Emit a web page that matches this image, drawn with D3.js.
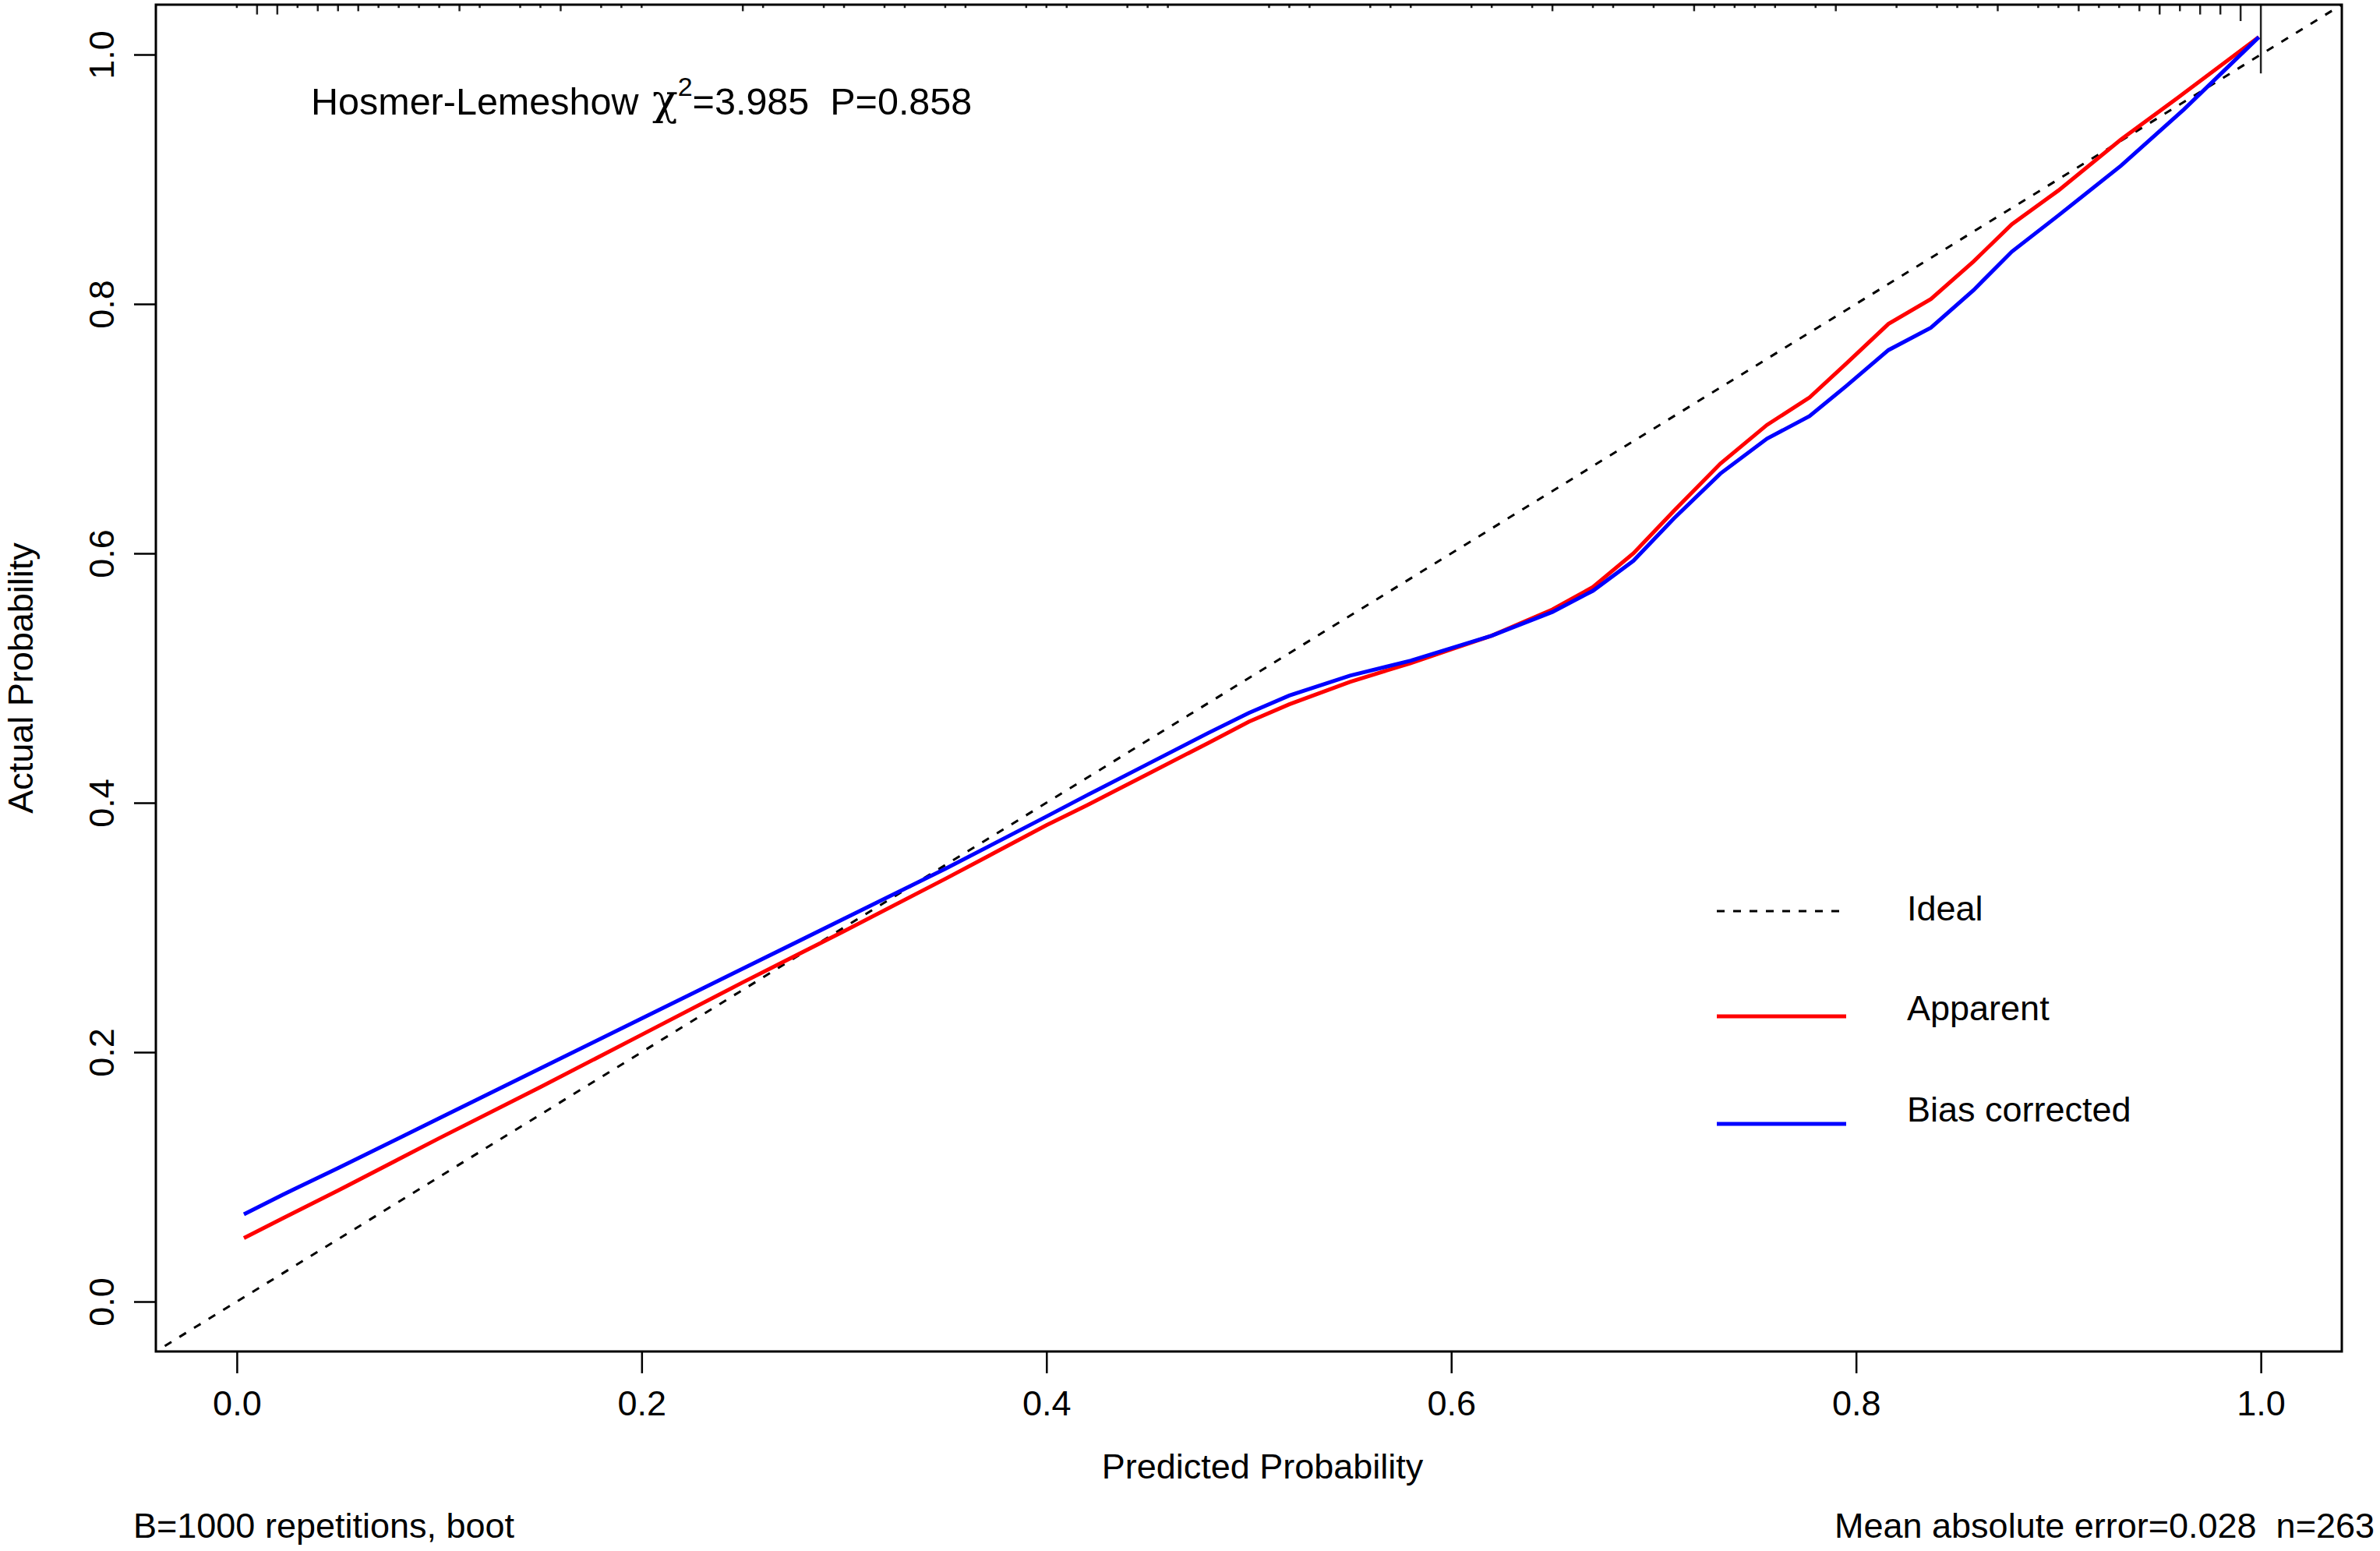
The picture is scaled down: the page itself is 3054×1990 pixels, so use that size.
<!DOCTYPE html>
<html>
<head>
<meta charset="utf-8">
<script src="https://cdn.jsdelivr.net/npm/d3@7"></script>
<style>
  body { margin: 0; background: #fff; }
  svg { display: block; font-family: "Liberation Sans", Arial, sans-serif; }
  text { fill: #000; white-space: pre; }
</style>
</head>
<body>
<div id="chart"></div>
<script>
// Calibration curves
const predX = [0.0035, 0.023, 0.05, 0.1, 0.15, 0.2, 0.25, 0.3, 0.35, 0.4, 0.42, 0.45, 0.48, 0.5, 0.52, 0.55, 0.58, 0.6, 0.62, 0.65, 0.67, 0.69, 0.71, 0.733, 0.756, 0.777, 0.795, 0.816, 0.837, 0.858, 0.877, 0.9, 0.931, 0.962, 0.999];
const apparentY = [0.051, 0.067, 0.089, 0.131, 0.172, 0.214, 0.256, 0.297, 0.339, 0.382, 0.398, 0.423, 0.448, 0.465, 0.479, 0.497, 0.512, 0.523, 0.534, 0.555, 0.573, 0.600, 0.634, 0.672, 0.703, 0.725, 0.752, 0.784, 0.804, 0.834, 0.864, 0.891, 0.932, 0.969, 1.014];
const biasY = [0.070, 0.086, 0.107, 0.147, 0.187, 0.227, 0.267, 0.307, 0.347, 0.389, 0.406, 0.431, 0.456, 0.472, 0.486, 0.502, 0.514, 0.524, 0.534, 0.553, 0.570, 0.594, 0.628, 0.664, 0.692, 0.710, 0.734, 0.763, 0.781, 0.811, 0.842, 0.871, 0.911, 0.956, 1.014];

// Distribution of predicted probabilities (top rug)
const rugX = [0.00, 0.01, 0.02, 0.03, 0.04, 0.05, 0.06, 0.07, 0.08, 0.09, 0.10, 0.11, 0.12, 0.14, 0.15, 0.16, 0.18, 0.19, 0.20, 0.25, 0.26, 0.29, 0.30, 0.32, 0.33, 0.35, 0.36, 0.39, 0.40, 0.41, 0.44, 0.45, 0.46,
  0.51, 0.52, 0.53, 0.56, 0.57, 0.58, 0.61, 0.62, 0.64, 0.65, 0.67, 0.68, 0.70, 0.72, 0.73, 0.74, 0.75, 0.76, 0.78, 0.79, 0.82, 0.84, 0.85, 0.86, 0.87, 0.89, 0.90, 0.91, 0.92, 0.93, 0.94, 0.95, 0.96, 0.97, 0.98, 0.99, 1.00];
const rugCount = [1, 3, 3, 1, 2, 2, 2, 1, 1, 1, 1, 2, 1, 1, 1, 2, 1, 1, 1, 2, 1, 1, 1, 1, 1, 1, 1, 1, 1, 1, 1, 1, 1,
  1, 1, 1, 1, 1, 1, 1, 1, 1, 2, 1, 1, 1, 2, 1, 1, 1, 1, 1, 2, 1, 1, 1, 1, 2, 1, 1, 2, 1, 1, 2, 3, 2, 3, 3, 5, 21];

const xTicks = [0, 0.2, 0.4, 0.6, 0.8, 1.0];
const yTicks = [0, 0.2, 0.4, 0.6, 0.8, 1.0];

const legendLabels = ["Ideal", "Apparent", "Bias corrected"];
const legendColors = ["#000", "#ff0000", "#0000ff"];

const width = 3054, height = 1990;
const plot = { left: 200, right: 3005, top: 6, bottom: 1734 };
const fontSize = 45;

const svg = d3.select("#chart").append("svg")
  .attr("width", width)
  .attr("height", height);

const x = d3.scaleLinear().domain([-0.04, 1.04]).range([plot.left, plot.right]);
const y = d3.scaleLinear().domain([-0.04, 1.04]).range([plot.bottom, plot.top]);

svg.append("clipPath").attr("id", "clip")
  .append("rect")
  .attr("x", plot.left).attr("y", plot.top)
  .attr("width", plot.right - plot.left)
  .attr("height", plot.bottom - plot.top);

// Axes
const xAxis = svg.append("g")
  .attr("transform", `translate(0,${plot.bottom})`)
  .call(d3.axisBottom(x).tickValues(xTicks).tickFormat(d3.format(".1f"))
    .tickSize(28).tickSizeOuter(0).tickPadding(22));
xAxis.select(".domain").remove();
xAxis.selectAll("line").attr("stroke", "#000").attr("stroke-width", 2.5);
xAxis.selectAll("text").attr("font-size", fontSize).attr("font-family", null);

const yAxis = svg.append("g")
  .attr("transform", `translate(${plot.left},0)`)
  .call(d3.axisLeft(y).tickValues(yTicks).tickFormat(d3.format(".1f"))
    .tickSize(28).tickSizeOuter(0));
yAxis.select(".domain").remove();
yAxis.selectAll("line").attr("stroke", "#000").attr("stroke-width", 2.5);
yAxis.selectAll("text")
  .attr("font-size", fontSize).attr("font-family", null)
  .attr("transform", "rotate(-90)")
  .attr("x", 0).attr("y", -54).attr("dy", null)
  .attr("text-anchor", "middle");

// Ideal line
const plotArea = svg.append("g").attr("clip-path", "url(#clip)");
plotArea.append("line")
  .attr("x1", x(-0.05)).attr("y1", y(-0.05))
  .attr("x2", x(1.05)).attr("y2", y(1.05))
  .attr("stroke", "#000").attr("stroke-width", 3)
  .attr("stroke-dasharray", "10,12");

// Curves
const line = d3.line().x((d) => x(d[0])).y((d) => y(d[1]));
plotArea.append("path")
  .datum(predX.map((v, i) => [v, apparentY[i]]))
  .attr("d", line)
  .attr("fill", "none").attr("stroke", legendColors[1]).attr("stroke-width", 5);
plotArea.append("path")
  .datum(predX.map((v, i) => [v, biasY[i]]))
  .attr("d", line)
  .attr("fill", "none").attr("stroke", legendColors[2]).attr("stroke-width", 5);

// Rug of predicted values along the top
plotArea.append("g").selectAll("line")
  .data(rugX.map((v, i) => [v, rugCount[i]]))
  .enter().append("line")
  .attr("x1", (d) => x(d[0])).attr("x2", (d) => x(d[0]))
  .attr("y1", plot.top)
  .attr("y2", (d) => plot.top + 4.2 * d[1])
  .attr("stroke", "#222").attr("stroke-width", 2.5);

// Box
svg.append("rect")
  .attr("x", plot.left).attr("y", plot.top)
  .attr("width", plot.right - plot.left)
  .attr("height", plot.bottom - plot.top)
  .attr("fill", "none").attr("stroke", "#000").attr("stroke-width", 3);

// Axis titles
svg.append("text")
  .attr("x", 1620).attr("y", 1897)
  .attr("text-anchor", "middle").attr("font-size", fontSize)
  .text("Predicted Probability");
svg.append("text")
  .attr("transform", "translate(42,870) rotate(-90)")
  .attr("text-anchor", "middle").attr("font-size", fontSize)
  .text("Actual Probability");

// Hosmer-Lemeshow annotation
const hl = svg.append("text")
  .attr("x", 399).attr("y", 147)
  .attr("font-size", 48.5);
hl.append("tspan").text("Hosmer-Lemeshow ");
hl.append("tspan").attr("font-family", "DejaVu Serif").attr("font-size", 54).attr("dx", 4).text("χ");
hl.append("tspan").attr("font-size", 34).attr("dy", -24).text("2");
hl.append("tspan").attr("dy", 24).text("=3.985  P=0.858");

// Legend
const legend = svg.append("g");
legendLabels.forEach((label, i) => {
  const ly = [1169, 1304, 1442][i];
  const ty = [1181, 1309, 1439][i];
  legend.append("line")
    .attr("x1", 2203).attr("x2", 2369)
    .attr("y1", ly).attr("y2", ly)
    .attr("stroke", legendColors[i])
    .attr("stroke-width", i === 0 ? 3 : 5)
    .attr("stroke-dasharray", i === 0 ? "10,11" : null);
  legend.append("text")
    .attr("x", 2447).attr("y", ty)
    .attr("font-size", fontSize)
    .text(label);
});

// Subtitles
svg.append("text")
  .attr("x", 171).attr("y", 1973)
  .attr("font-size", fontSize)
  .text("B=1000 repetitions, boot");
svg.append("text")
  .attr("x", 3047).attr("y", 1973)
  .attr("text-anchor", "end").attr("font-size", fontSize)
  .text("Mean absolute error=0.028  n=263");
</script>
</body>
</html>
